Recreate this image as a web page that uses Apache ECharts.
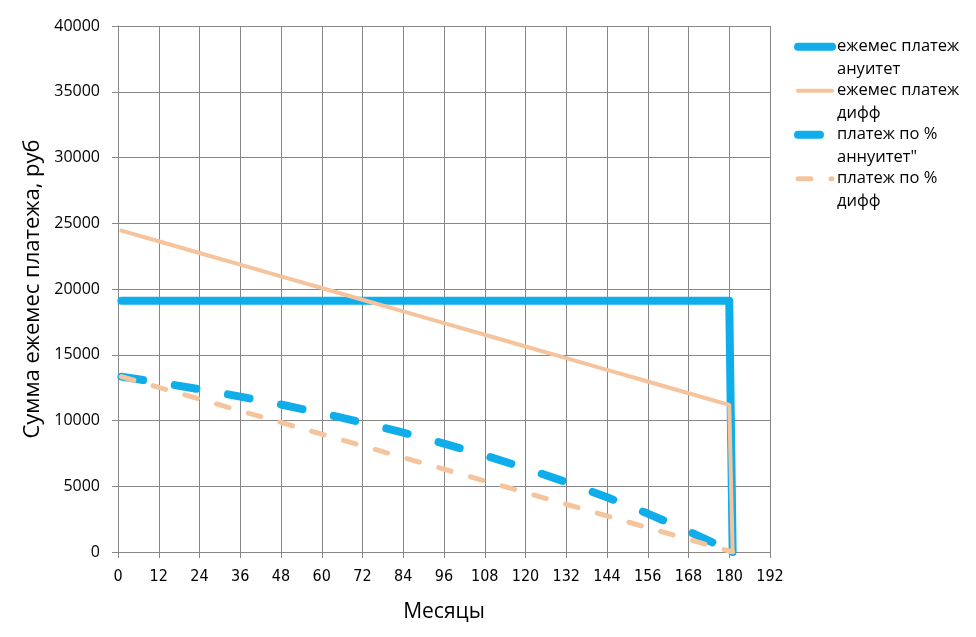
<!DOCTYPE html>
<html>
<head>
<meta charset="utf-8">
<script src="https://cdn.jsdelivr.net/npm/echarts@6/dist/echarts.min.js"></script>
<style>
html,body{margin:0;padding:0;background:#fff;}
#c{width:976px;height:637px;}
</style>
</head>
<body>
<div id="c"></div>
<script>
// Months at which values were read
const months = [1, 12, 24, 36, 48, 60, 72, 84, 96, 108, 120, 132, 144, 156, 168, 180, 181];
// Monthly payment, annuity
const annuityPayment = [19113, 19113, 19113, 19113, 19113, 19113, 19113, 19113, 19113, 19113, 19113, 19113, 19113, 19113, 19113, 19113, 0];
// Monthly payment, differentiated
const diffPayment = [24444, 23630, 22741, 21852, 20963, 20074, 19185, 18296, 17407, 16518, 15630, 14741, 13852, 12963, 12074, 11185, 0];
// Interest part, annuity
const annuityInterest = [13333, 12895, 12379, 11820, 11214, 10559, 9849, 9080, 8247, 7345, 6368, 5311, 4165, 2924, 1581, 127, 0];
// Interest part, differentiated
const diffInterest = [13333, 12519, 11630, 10741, 9852, 8963, 8074, 7185, 6296, 5407, 4519, 3630, 2741, 1852, 963, 74, 0];

const seriesNames = ['ежемес платеж\nануитет', 'ежемес платеж\nдифф', 'платеж по %\nаннуитет"', 'платеж по %\nдифф'];
const xTicks = [0, 192, 12];
const yTicks = [0, 40000, 5000];

const pair = arr => months.map((m, i) => [m, arr[i]]);

const BLUE = '#0FAEEA';
const ORANGE = '#F6C49C';
const GRID = '#878787';
const FONT = "'Open Sans', 'Liberation Sans', sans-serif";

const styles = [
  {color: BLUE, width: 8, type: 'solid'},
  {color: ORANGE, width: 4, type: 'solid'},
  {color: BLUE, width: 8, type: [22, 32]},
  {color: ORANGE, width: 5, type: [13, 20]}
];

const chart = echarts.init(document.getElementById('c'), null, {renderer: 'canvas'});
chart.setOption({
  animation: false,
  backgroundColor: '#fff',
  grid: {left: 118, right: 206, top: 26, bottom: 85, containLabel: false},
  xAxis: {
    type: 'value', min: xTicks[0], max: xTicks[1], interval: xTicks[2],
    name: 'Месяцы', nameLocation: 'middle', nameGap: 50,
    nameTextStyle: {fontSize: 21, color: '#000', fontFamily: FONT},
    axisLine: {show: true, lineStyle: {color: GRID, width: 1}},
    axisTick: {show: true, length: 6, lineStyle: {color: GRID}},
    splitLine: {show: true, lineStyle: {color: GRID, width: 1}},
    axisLabel: {fontSize: 16, color: '#000', margin: 17, fontFamily: "'Liberation Sans Narrow', 'DejaVu Sans Condensed', " + FONT}
  },
  yAxis: {
    type: 'value', min: yTicks[0], max: yTicks[1], interval: yTicks[2],
    name: 'Сумма ежемес платежа, руб', nameLocation: 'middle', nameGap: 74,
    nameTextStyle: {fontSize: 22, color: '#000', fontFamily: FONT},
    axisLine: {show: true, lineStyle: {color: GRID, width: 1}},
    axisTick: {show: true, length: 6, lineStyle: {color: GRID}},
    splitLine: {show: true, lineStyle: {color: GRID, width: 1}},
    axisLabel: {fontSize: 16, color: '#000', margin: 18, fontFamily: FONT, formatter: v => String(v)}
  },
  legend: {
    orient: 'vertical', left: 789, top: 8,
    itemWidth: 34, itemHeight: 14, itemGap: -23.5,
    formatter: name => '\n' + name,
    textStyle: {fontSize: 16.5, color: '#000', lineHeight: 22.5, fontFamily: FONT},
    lineStyle: {cap: 'round'},
    data: seriesNames.map((n, i) => ({
      name: n,
      itemStyle: {opacity: 0},
      lineStyle: {color: styles[i].color, width: styles[i].width, type: styles[i].type, cap: 'round'}
    }))
  },
  series: seriesNames.map((n, i) => ({
    name: n, type: 'line', symbol: 'none',
    data: pair([annuityPayment, diffPayment, annuityInterest, diffInterest][i]),
    lineStyle: {color: styles[i].color, width: styles[i].width, type: styles[i].type, cap: 'round', join: 'round'},
    itemStyle: {color: styles[i].color}
  }))
});
</script>
</body>
</html>
